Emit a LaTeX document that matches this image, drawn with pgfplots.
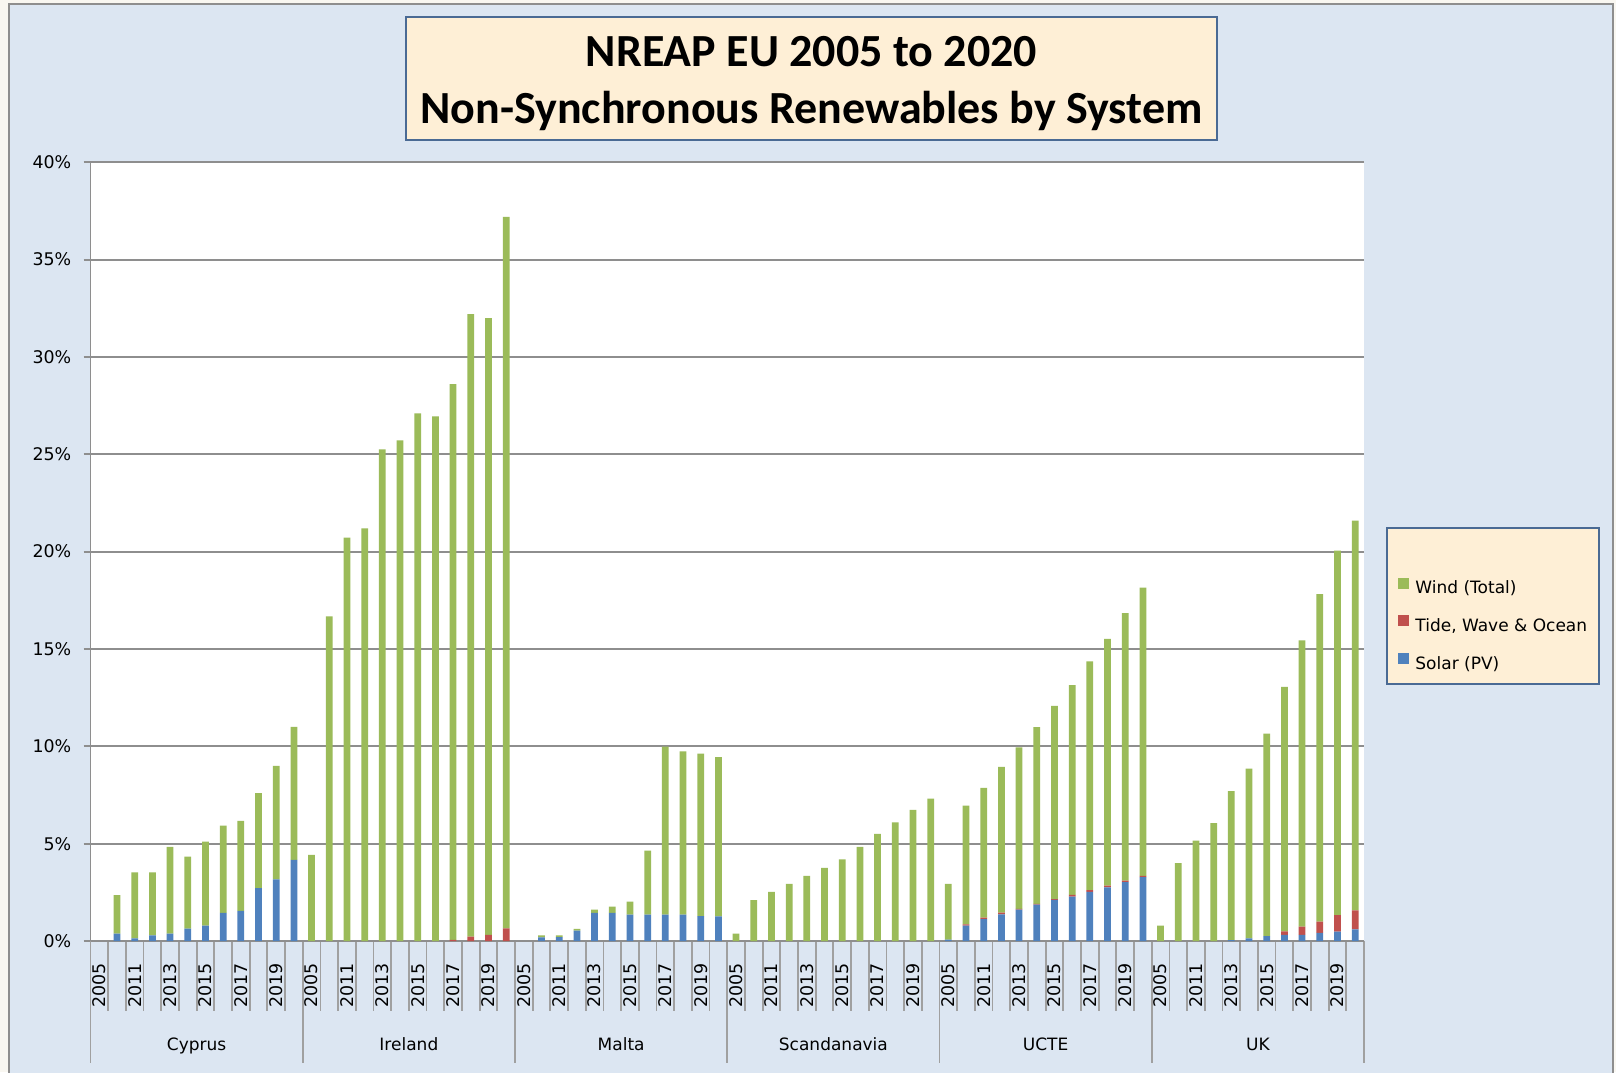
\documentclass[border=0pt]{standalone}
\usepackage{fontspec}
\setmainfont{DejaVu Sans}
\newfontfamily\titlefont{Carlito}
\usepackage{pgfplots}
\usepackage{pgfplotstable}
\pgfplotsset{compat=1.18}
\definecolor{windc}{HTML}{9BBB59}
\definecolor{tidec}{HTML}{C0504D}
\definecolor{solarc}{HTML}{4F81BD}
\definecolor{bgc}{HTML}{DCE6F2}
\definecolor{boxc}{HTML}{FEEFD6}
\definecolor{boxline}{HTML}{4A6A94}
\definecolor{gridc}{HTML}{8E8E8E}
\definecolor{sepc}{HTML}{A0A0A0}
\definecolor{offw}{HTML}{F9F7F1}

\pgfplotsset{
  sq legend/.style={legend image code/.code={\fill[##1] (0pt,0.3pt) rectangle (5.5pt,5.8pt);}},
}

\pgfplotstableread{
k solar tide wind
0 0 0 0
1 0.38 0 1.98
2 0.14 0 3.38
3 0.29 0 3.23
4 0.38 0 4.46
5 0.64 0 3.70
6 0.79 0 4.31
7 1.45 0 4.48
8 1.55 0 4.62
9 2.71 0 4.88
10 3.17 0 5.83
11 4.17 0 6.83
12 0 0 4.42
13 0 0 16.67
14 0 0 20.72
15 0 0 21.20
16 0 0 25.25
17 0 0 25.72
18 0 0 27.10
19 0 0 26.95
20 0 0.06 28.54
21 0 0.22 31.98
22 0 0.32 31.68
23 0 0.65 36.55
24 0 0 0
25 0.19 0 0.10
26 0.20 0 0.09
27 0.53 0 0.09
28 1.44 0 0.17
29 1.44 0 0.32
30 1.35 0 0.67
31 1.35 0 3.29
32 1.35 0 8.63
33 1.35 0 8.39
34 1.28 0 8.34
35 1.27 0 8.18
36 0 0 0.38
37 0 0 2.10
38 0 0 2.52
39 0 0 2.93
40 0 0 3.34
41 0 0 3.76
42 0 0 4.19
43 0 0 4.84
44 0 0 5.50
45 0 0 6.09
46 0 0 6.74
47 0 0 7.32
48 0.07 0 2.86
49 0.79 0.07 6.10
50 1.13 0.07 6.66
51 1.37 0.09 7.48
52 1.61 0.04 8.30
53 1.87 0.04 9.08
54 2.11 0.04 9.93
55 2.28 0.09 10.77
56 2.52 0.09 11.76
57 2.76 0.09 12.67
58 3.03 0.07 13.74
59 3.28 0.07 14.80
60 0 0 0.79
61 0 0 4.00
62 0 0 5.15
63 0 0 6.06
64 0.05 0 7.65
65 0.14 0 8.71
66 0.25 0 10.40
67 0.32 0.18 12.55
68 0.32 0.42 14.70
69 0.42 0.58 16.82
70 0.48 0.85 18.72
71 0.60 0.97 20.03
}\data

\begin{document}
\begin{tikzpicture}
\useasboundingbox (0,0) rectangle (808pt,536pt);
\fill[offw] (0,0) rectangle (808pt,536pt);
\filldraw[fill=bgc, draw=gridc, line width=0.75pt] (4.5pt,-5pt) rectangle (806.5pt,534pt);
\filldraw[fill=boxc, draw=boxline, line width=0.8pt] (203pt,466pt) rectangle (608.5pt,527.5pt);
\node[font=\titlefont\bfseries\fontsize{23}{28}\selectfont, anchor=base, inner sep=0pt] at (405.75pt,502.5pt) {NREAP EU 2005 to 2020};
\node[font=\titlefont\bfseries\fontsize{23}{28}\selectfont, anchor=base, inner sep=0pt] at (405.75pt,474.15pt) {Non-Synchronous Renewables by System};
\filldraw[fill=boxc, draw=boxline, line width=0.8pt] (693.5pt,194pt) rectangle (799.5pt,272pt);
\begin{axis}[
  at={(45.25pt,65.5pt)}, anchor=south west,
  scale only axis, width=636.75pt, height=389.35pt,
  xmin=-0.5, xmax=71.5, ymin=0, ymax=40,
  ybar stacked, bar width=0.38,
  axis background/.style={fill=white},
  axis line style={draw=none},
  ytick={0,5,...,40},
  yticklabel={\pgfmathprintnumber{\tick}\%},
  /pgf/number format/assume math mode=true,
  ymajorgrids, grid style={gridc, line width=0.9pt},
  ytick pos=left, tick align=outside, major tick length=3.5pt,
  ytick style={gridc, line width=0.9pt},
  xtick={0,2,...,70},
  xticklabels={2005,2011,2013,2015,2017,2019,2005,2011,2013,2015,2017,2019,2005,2011,2013,2015,2017,2019,2005,2011,2013,2015,2017,2019,2005,2011,2013,2015,2017,2019,2005,2011,2013,2015,2017,2019},
  xtick style={draw=none},
  xticklabel style={rotate=90, anchor=east, xshift=-4pt},
  yticklabel style={xshift=-2.6pt},
  tick label style={font=\fontsize{8.7}{10}\selectfont, black},
  clip=false,
  legend style={at={(1.0267,0.467)}, anchor=north west, draw=none, fill=none, inner sep=0pt,
    row sep=8.8pt, font=\fontsize{8.5}{10}\selectfont,
    nodes={inner sep=0pt, text height=6.5pt, text depth=2pt},
    /tikz/every odd column/.append style={column sep=3pt}},
  legend cell align=left,
  reverse legend,
]
\addplot[fill=solarc, draw=none, sq legend] table[x=k, y=solar] {\data};
\addlegendentry{Solar (PV)}
\addplot[fill=tidec, draw=none, sq legend] table[x=k, y=tide] {\data};
\addlegendentry{Tide, Wave \& Ocean}
\addplot[fill=windc, draw=none, sq legend] table[x=k, y=wind] {\data};
\addlegendentry{Wind (Total)}
\draw[gridc, line width=0.9pt] (axis cs:-0.5,0) -- (axis cs:-0.5,40);
\draw[gridc, line width=0.9pt] (axis cs:-0.5,0) -- (axis cs:71.5,0);
\pgfplotsinvokeforeach{0,...,72}{
  \draw[sepc, line width=0.9pt] (axis cs:{#1-0.5},0) -- ++(0pt,-35pt);
}
\pgfplotsinvokeforeach{0,1,2,3,4,5}{
  \draw[sepc, line width=0.9pt] (axis cs:{12*#1-0.5},0) -- ++(0pt,-61pt);
}
\draw[sepc, line width=0.9pt] (axis cs:71.5,0) -- ++(0pt,-61pt);
\node[font=\fontsize{8.5}{10}\selectfont, anchor=base, inner sep=0pt] at (axis cs:5.5,0) [yshift=-54.8pt] {Cyprus};
\node[font=\fontsize{8.5}{10}\selectfont, anchor=base, inner sep=0pt] at (axis cs:17.5,0) [yshift=-54.8pt] {Ireland};
\node[font=\fontsize{8.5}{10}\selectfont, anchor=base, inner sep=0pt] at (axis cs:29.5,0) [yshift=-54.8pt] {Malta};
\node[font=\fontsize{8.5}{10}\selectfont, anchor=base, inner sep=0pt] at (axis cs:41.5,0) [yshift=-54.8pt] {Scandanavia};
\node[font=\fontsize{8.5}{10}\selectfont, anchor=base, inner sep=0pt] at (axis cs:53.5,0) [yshift=-54.8pt] {UCTE};
\node[font=\fontsize{8.5}{10}\selectfont, anchor=base, inner sep=0pt] at (axis cs:65.5,0) [yshift=-54.8pt] {UK};
\end{axis}
\end{tikzpicture}
\end{document}
